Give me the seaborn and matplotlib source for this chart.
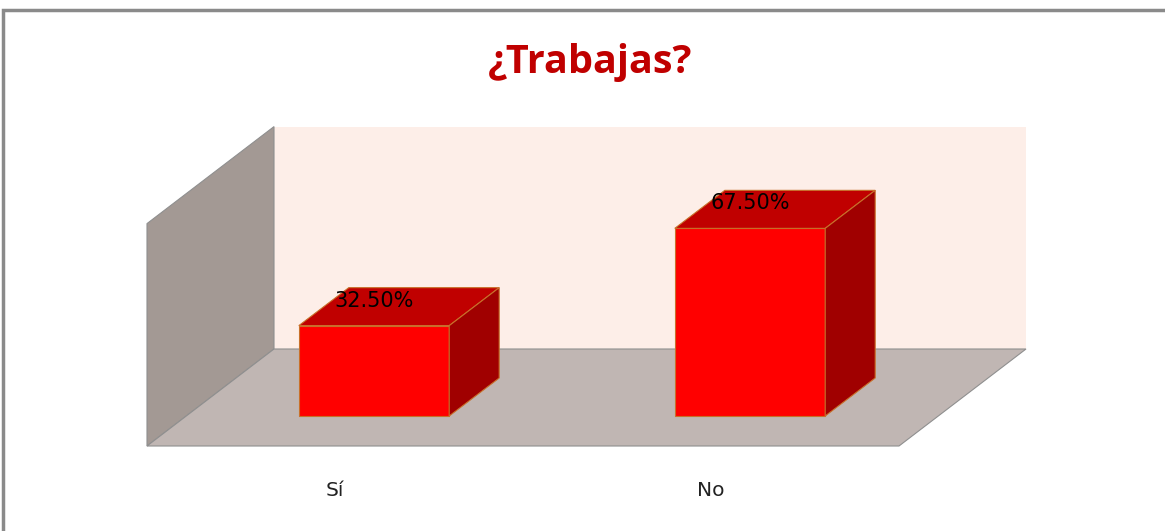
import numpy as np
import pandas as pd
import matplotlib
matplotlib.use("Agg")
import matplotlib.pyplot as plt
from matplotlib.patches import Polygon, Rectangle
import seaborn as sns

# Data
categories = ["Sí", "No"]
values = [32.5, 67.5]
value_labels = ["32.50%", "67.50%"]
axis_max = 80

sns.set_style("white")
plt.rcParams['font.family'] = ['DejaVu Sans']

W, H = 1165, 531
fig = plt.figure(figsize=(W / 100, H / 100), dpi=100)

# pixel <-> data mapping of the front plane of the bars
X0, SX = 374, 376.0     # category 0 centre, px per category
Y0, SY = 416, 2.78      # value 0 row, px per percent
left, top, right, bottom = 140, 120, 1035, 455
ax = fig.add_axes([left / W, 1 - bottom / H, (right - left) / W, (bottom - top) / H])


def depth(px_dx, px_dy):
    # oblique depth offset given in pixels, returned in data units
    return px_dx / SX, -px_dy / SY


front = depth(-39, 30)   # floor front edge relative to bar fronts
back = depth(88, -67)    # back wall relative to bar fronts
bar_d = depth(50, -38)   # bar depth

n = len(categories)
xl, xr = -0.5, n - 0.5

# back wall
ax.add_patch(Polygon([(xl + back[0], back[1]), (xr + back[0], back[1]),
                      (xr + back[0], axis_max + back[1]), (xl + back[0], axis_max + back[1])],
                     closed=True, facecolor="#FDEEE8", edgecolor="none", zorder=0.2))
# left wall
ax.add_patch(Polygon([(xl + front[0], front[1]), (xl + back[0], back[1]),
                      (xl + back[0], axis_max + back[1]), (xl + front[0], axis_max + front[1])],
                     closed=True, facecolor="#A39994", edgecolor="#8f8f8f", linewidth=0.8, zorder=0.3))
# floor
ax.add_patch(Polygon([(xl + front[0], front[1]), (xr + front[0], front[1]),
                      (xr + back[0], back[1]), (xl + back[0], back[1])],
                     closed=True, facecolor="#C0B6B3", edgecolor="#8f8f8f", linewidth=0.8, zorder=0.3))

df = pd.DataFrame({"respuesta": categories, "porcentaje": values})
sns.barplot(data=df, x="respuesta", y="porcentaje", color="#FF0000", saturation=1,
            width=0.4, edgecolor="#C8702A", linewidth=0.8, ax=ax, zorder=3)

# 3D faces for each bar
bars = [p for p in ax.patches if isinstance(p, Rectangle)]
for p in bars:
    x, y, w, h = p.get_x(), p.get_y(), p.get_width(), p.get_height()
    dx, dy = bar_d
    top_face = [(x, y + h), (x + w, y + h), (x + w + dx, y + h + dy), (x + dx, y + h + dy)]
    side_face = [(x + w, y), (x + w + dx, y + dy), (x + w + dx, y + h + dy), (x + w, y + h)]
    ax.add_patch(Polygon(top_face, closed=True, facecolor="#C00000",
                         edgecolor="#C8702A", linewidth=0.8, zorder=3))
    ax.add_patch(Polygon(side_face, closed=True, facecolor="#A00000",
                         edgecolor="#C8702A", linewidth=0.8, zorder=3))

# value labels on top of bars
for i, (v, lab) in enumerate(zip(values, value_labels)):
    ax.annotate(lab, (i, v), xytext=(0, 18), textcoords="offset points",
                ha="center", va="center", fontsize=15, color="black", zorder=5)

# category labels under floor front edge
for i, cat in enumerate(categories):
    ax.text(i + front[0], (Y0 - 490) / SY, cat, ha="center", va="center",
            fontsize=14.5, color="#222222")

ax.set_xlim((left - X0) / SX, (right - X0) / SX)
ax.set_ylim((Y0 - bottom) / SY, (Y0 - top) / SY)
ax.axis("off")

# title and frame
fig.text(590 / W, 1 - 63 / H, "¿Trabajas?", color="#C00000", fontsize=28.5,
         fontweight="bold", family=["Open Sans", "DejaVu Sans"], ha="center", va="center")
fig.patches.append(Rectangle((3 / W, -0.1), 1.2, 1 - 10 / H + 0.1, transform=fig.transFigure,
                             fill=False, edgecolor="#8a8a8a", linewidth=2.5))

fig.savefig("out.png", dpi=100, facecolor="white")
